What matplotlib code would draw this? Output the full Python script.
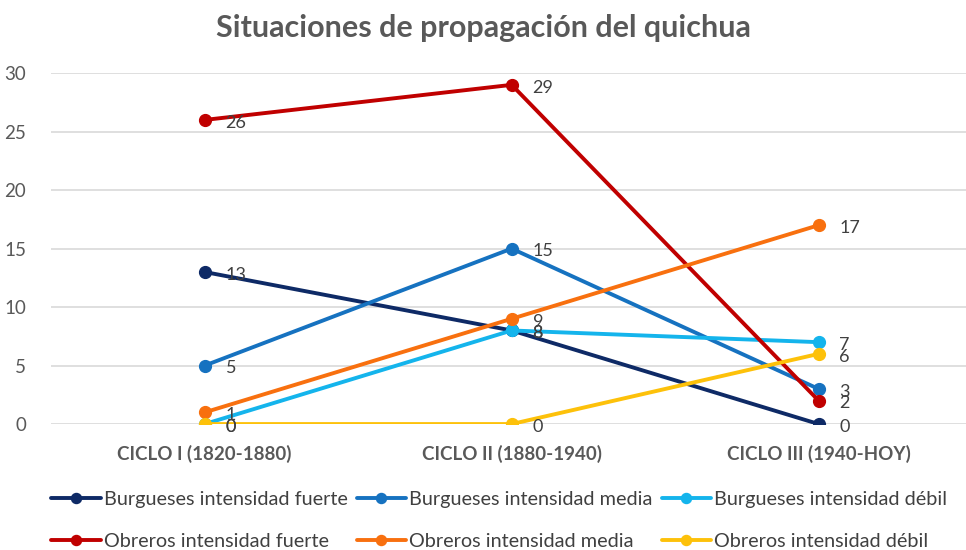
import numpy as np
import matplotlib
matplotlib.use('Agg')
import matplotlib.pyplot as plt

plt.rcParams['font.family'] = ['Lato', 'Liberation Sans', 'DejaVu Sans']

# Data
ciclos = ['CICLO I (1820-1880)', 'CICLO II (1880-1940)', 'CICLO III (1940-HOY)']
series_names = ['Burgueses intensidad fuerte', 'Burgueses intensidad media',
                'Burgueses intensidad débil', 'Obreros intensidad fuerte',
                'Obreros intensidad media', 'Obreros intensidad débil']
burg_fuerte = [13, 8, 0]
burg_media = [5, 15, 3]
burg_debil = [0, 8, 7]
obr_fuerte = [26, 29, 2]
obr_media = [1, 9, 17]
obr_debil = [0, 0, 6]
yticks = [0, 5, 10, 15, 20, 25, 30]

COLORS = ['#0E2A66', '#1672C0', '#14B4EC', '#C00000', '#F8700F', '#FDC10A']
values = [burg_fuerte, burg_media, burg_debil, obr_fuerte, obr_media, obr_debil]

fig = plt.figure(figsize=(9.66, 5.5), dpi=100)
ax = fig.add_axes([0.053, 0.229, 0.947, 0.638])

x = np.arange(len(ciclos))
lines = []
for name, vals, col in zip(series_names, values, COLORS):
    ln, = ax.plot(x, vals, color=col, lw=2.8, marker='o', markersize=8.5,
                  label=name, solid_capstyle='round')
    lines.append(ln)
    for xi, v in zip(x, vals):
        ax.annotate(str(v), (xi, v), xytext=(15, -2), textcoords='offset points',
                    ha='left', va='center', fontsize=13, color='#404040')

ax.set_xlim(-0.5, 2.48)
ax.set_ylim(0, 30)
ax.set_yticks(yticks)
ax.set_xticks(x)
ax.set_xticklabels(ciclos, fontsize=13.5, fontweight='bold', color='#595959')
ax.tick_params(axis='y', labelsize=13.5, labelcolor='#595959', length=0, pad=18)
ax.tick_params(axis='x', length=0, pad=15)
ax.grid(True, axis='y', color='#D9D9D9', lw=1.2)
ax.set_axisbelow(True)
for s in ax.spines.values():
    s.set_visible(False)

fig.suptitle('Situaciones de propagación del quichua', x=0.5, y=0.975,
             fontsize=22, fontweight='bold', color='#595959')

# legend filled row by row like the original
order = [0, 3, 1, 4, 2, 5]
ax.legend([lines[i] for i in order], [series_names[i] for i in order],
          loc='upper left', bbox_to_anchor=(0.0, -0.19), ncol=3, frameon=False,
          fontsize=14.3, labelcolor='#404040', handlelength=2.5, handletextpad=0.15,
          columnspacing=0.45, labelspacing=1.28, markerscale=0.85,
          borderaxespad=0, borderpad=0)

fig.savefig('out.png', dpi=100)
